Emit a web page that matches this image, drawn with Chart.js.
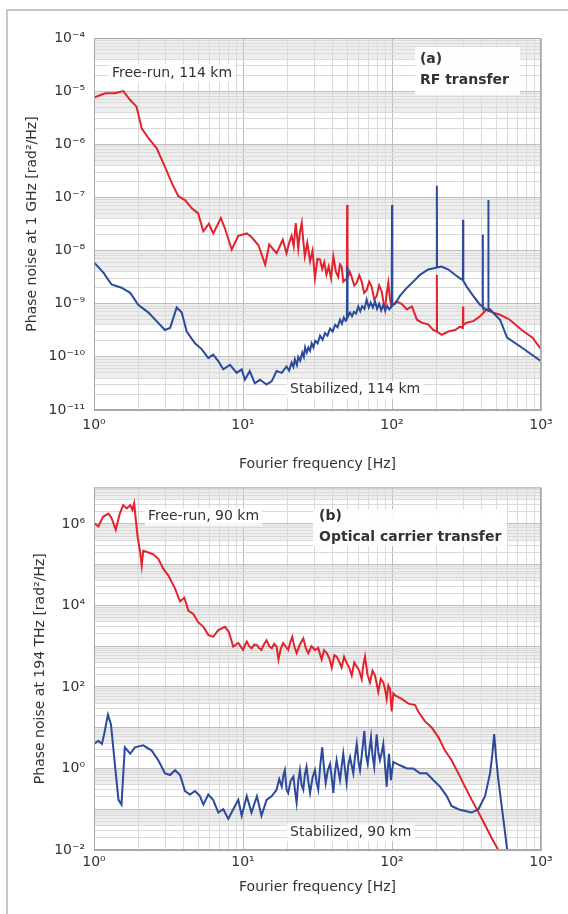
<!DOCTYPE html>
<html>
<head>
<meta charset="utf-8">
<script src="https://cdn.jsdelivr.net/npm/chart.js@4.4.1/dist/chart.umd.min.js"></script>
<style>
  html, body { margin: 0; padding: 0; background: #fff; overflow: hidden; }
  body { width: 568px; height: 914px; position: relative; }
  #frame { position: absolute; left: 6px; top: 9px; width: 640px; height: 980px; border: 2px solid #c8c8c8; }
  canvas { position: absolute; left: 0; }
  #rfChart { top: 0; }
  #optChart { top: 470px; }
</style>
</head>
<body>
<div id="frame"></div>
<canvas id="rfChart" width="568" height="476"></canvas>
<canvas id="optChart" width="568" height="444"></canvas>
<script>
// (a) RF transfer, 114 km
const rfFreeFreq = [1.0, 1.19, 1.38, 1.57, 1.75, 1.93, 2.09, 2.32, 2.63, 2.99, 3.32, 3.68, 4.08, 4.52, 5.0, 5.42, 5.9, 6.32, 7.1, 7.57,
  8.4, 9.3, 10.6, 11.4, 12.7, 14.1, 15.0, 16.8, 18.5, 19.6, 20.4, 21.2, 21.9, 22.6, 23.5, 24.1, 24.8, 25.4, 26, 27,
  28.2, 29.3, 30.4, 31.6, 32.9, 34, 35.1, 36.3, 37.6, 39, 40.4, 42, 43.6, 44.7, 45.9, 47.1, 48.4, 49.8, 50, 50.3,
  52, 53.6, 55.8, 58, 60.3, 62.6, 65, 67.6, 70.3, 73, 76, 78.9, 82, 85.3, 87.5, 89.8, 92, 94.5, 97, 99.5,
  107, 116, 126, 136, 147, 158, 175, 189, 199.5, 200, 200.5, 215, 239, 265, 286, 299, 300, 301, 317, 351,
  390, 432, 455, 479, 531, 617, 742, 878, 1000];
const rfFreeVal = [7.6e-6, 9.1e-6, 9.1e-6, 1.0e-5, 6.8e-6, 5.1e-6, 2.0e-6, 1.3e-6, 8.5e-7, 3.8e-7, 1.9e-7, 1.05e-7, 8.9e-8, 6.3e-8, 5.0e-8, 2.3e-8, 3.2e-8, 2.1e-8, 4.1e-8, 2.6e-8,
  1.05e-8, 1.9e-8, 2.1e-8, 1.8e-8, 1.26e-8, 5.4e-9, 1.3e-8, 8.9e-9, 1.6e-8, 8.9e-9, 1.4e-8, 1.9e-8, 1.2e-8, 3.3e-8, 1.1e-8, 2.2e-8, 3.3e-8, 1.5e-8, 7.8e-9, 1.4e-8,
  6.3e-9, 1.0e-8, 3.0e-9, 7.0e-9, 6.8e-9, 4.5e-9, 6.0e-9, 3.5e-9, 5.0e-9, 3.0e-9, 7.8e-9, 4.0e-9, 3.2e-9, 5.5e-9, 5.0e-9, 2.6e-9, 2.8e-9, 3.0e-9, 7.2e-8, 3.0e-9,
  4.0e-9, 3.2e-9, 2.2e-9, 2.5e-9, 3.4e-9, 2.6e-9, 1.6e-9, 1.8e-9, 2.6e-9, 2.1e-9, 1.2e-9, 1.4e-9, 2.2e-9, 1.7e-9, 1.1e-9, 7.8e-10, 1.5e-9, 2.5e-9, 1.2e-9, 8.9e-10,
  1.1e-9, 1.0e-9, 7.8e-10, 8.9e-10, 5.0e-10, 4.4e-10, 4.1e-10, 3.2e-10, 3.0e-10, 3.5e-9, 3.0e-10, 2.6e-10, 3.0e-10, 3.2e-10, 3.7e-10, 3.5e-10, 8.9e-10, 4.0e-10, 4.4e-10, 4.7e-10,
  5.8e-10, 7.8e-10, 7.2e-10, 6.8e-10, 6.2e-10, 5.0e-10, 3.2e-10, 2.3e-10, 1.4e-10];

const rfStabFreq = [1.0, 1.16, 1.31, 1.53, 1.75, 1.98, 2.32, 2.63, 2.99, 3.24, 3.59, 3.88, 4.19, 4.76, 5.28, 5.85, 6.3, 6.83, 7.38, 8.18,
  9.07, 9.8, 10.3, 11.1, 12.0, 13.0, 14.4, 15.6, 16.8, 18.2, 19.6, 20.4, 21.2, 21.8, 22.3, 23, 23.5, 24.2, 25, 25.6,
  26.1, 26.8, 27.5, 28.2, 28.9, 29.7, 30.5, 31.7, 32.9, 34.2, 35.5, 36.9, 38.4, 40, 41.5, 43.1, 44.8, 46.1, 47.5, 48.8,
  49.8, 50, 50.3, 51.3, 52.3, 53.9, 55.5, 57.4, 59.4, 61.2, 63, 65.3, 67.6, 69.8, 72, 74.4, 76.9, 79.4, 82, 84.7,
  87.4, 90.2, 93, 96, 99.5, 100, 100.5, 105, 113, 126, 139, 154, 175, 194, 199.5, 200, 200.5, 215, 239, 265,
  286, 299, 300, 301, 317, 351, 390, 404, 406, 408, 441, 443, 445, 455, 531, 592, 742, 1000];
const rfStabVal = [6.0e-9, 3.8e-9, 2.3e-9, 2.0e-9, 1.6e-9, 9.5e-10, 6.8e-10, 4.7e-10, 3.2e-10, 3.5e-10, 8.5e-10, 6.8e-10, 3.0e-10, 1.8e-10, 1.4e-10, 9.5e-11, 1.1e-10, 8.3e-11, 5.8e-11, 7.1e-11,
  5.0e-11, 5.8e-11, 3.7e-11, 5.4e-11, 3.2e-11, 3.7e-11, 3.0e-11, 3.5e-11, 5.4e-11, 5.0e-11, 6.6e-11, 5.5e-11, 7.8e-11, 6.5e-11, 9.0e-11, 7.0e-11, 1.0e-10, 8.5e-11, 1.2e-10, 1.0e-10,
  1.5e-10, 1.2e-10, 1.5e-10, 1.3e-10, 1.8e-10, 1.5e-10, 2.0e-10, 1.8e-10, 2.5e-10, 2.1e-10, 2.8e-10, 2.5e-10, 3.4e-10, 3.0e-10, 4.0e-10, 3.6e-10, 5.0e-10, 4.2e-10, 5.5e-10, 4.8e-10,
  5.2e-10, 5.0e-9, 5.5e-10, 6.2e-10, 6.8e-10, 5.8e-10, 7.0e-10, 6.5e-10, 8.9e-10, 7.2e-10, 9.0e-10, 8.0e-10, 1.2e-9, 8.5e-10, 1.05e-9, 8.5e-10, 1.1e-9, 8.0e-10, 1.0e-9, 7.5e-10,
  9.5e-10, 7.5e-10, 9.0e-10, 7.8e-10, 9.0e-10, 7.2e-8, 9.5e-10, 1.0e-9, 1.4e-9, 2.0e-9, 2.6e-9, 3.5e-9, 4.4e-9, 4.7e-9, 4.8e-9, 1.66e-7, 4.8e-9, 5.0e-9, 4.4e-9, 3.5e-9,
  3.0e-9, 2.8e-9, 3.8e-8, 2.7e-9, 2.1e-9, 1.4e-9, 9.5e-10, 9.0e-10, 2.0e-8, 8.5e-10, 7.5e-10, 8.9e-8, 7.4e-10, 7.8e-10, 5.0e-10, 2.3e-10, 1.5e-10, 8.3e-11];

// (b) Optical carrier transfer, 90 km
const optFreeFreq = [1.0, 1.07, 1.15, 1.25, 1.31, 1.40, 1.49, 1.57, 1.66, 1.75, 1.81, 1.86, 1.96, 2.04, 2.09, 2.14, 2.32, 2.5, 2.70, 2.92,
  3.15, 3.5, 3.78, 4.04, 4.3, 4.64, 5.0, 5.42, 5.85, 6.3, 6.83, 7.57, 8.05, 8.6, 9.3, 10, 10.3, 10.6, 11, 11.4,
  11.9, 12.4, 12.8, 13.3, 13.8, 14.4, 15, 15.6, 16.2, 16.8, 17.3, 17.9, 18.6, 19.3, 20.1, 20.7, 21.4, 22.1, 22.9, 24.1,
  25.4, 26.4, 27.4, 28.8, 30.4, 32, 33.7, 35, 36.5, 38, 39.4, 41, 42.5, 44.2, 45.9, 47.7, 49.6, 51.6, 53.7, 55.8,
  58, 60.3, 62.6, 64.2, 65.9, 68.5, 71.2, 74, 76.9, 78.9, 80.9, 84, 87.4, 89.7, 92.1, 94.5, 97, 99.5, 102, 105,
  116, 129, 143, 150, 166, 185, 205, 227, 251, 279, 309, 343, 380, 421, 467, 517, 560];
const optFreeVal = [1.05e6, 8.7e5, 1.5e6, 1.8e6, 1.4e6, 7.2e5, 1.8e6, 2.9e6, 2.4e6, 2.9e6, 2.2e6, 3.2e6, 5.0e5, 2.0e5, 9.5e4, 2.2e5, 2.0e5, 1.8e5, 1.4e5, 7.9e4,
  5.5e4, 2.6e4, 1.26e4, 1.55e4, 7.4e3, 6.2e3, 3.9e3, 3.0e3, 1.9e3, 1.7e3, 2.5e3, 3.0e3, 2.2e3, 980, 1.2e3, 810, 1.05e3, 1.3e3, 1.0e3, 890,
  1.1e3, 1.07e3, 900, 810, 1.1e3, 1.4e3, 1.0e3, 890, 1.15e3, 980, 470, 850, 1.2e3, 1.0e3, 810, 1.2e3, 1.7e3, 1.0e3, 680, 1.1e3,
  1.55e3, 900, 680, 1.0e3, 810, 900, 470, 800, 680, 500, 300, 600, 560, 420, 300, 550, 390, 300, 190, 400,
  320, 250, 155, 350, 560, 200, 130, 250, 190, 120, 76, 160, 130, 90, 51, 110, 89, 25, 70, 62,
  51, 39, 36, 25, 14.5, 10, 5.8, 2.75, 1.6, 0.76, 0.36, 0.17, 0.085, 0.041, 0.0195, 0.01, 0.005];

const optStabFreq = [1.0, 1.07, 1.13, 1.17, 1.24, 1.30, 1.38, 1.46, 1.53, 1.61, 1.75, 1.88, 2.14, 2.44, 2.7, 3.0, 3.24, 3.5, 3.78, 4.08,
  4.41, 4.76, 5.14, 5.42, 5.85, 6.3, 6.83, 7.38, 7.97, 8.6, 9.3, 9.8, 10.6, 11.4, 12.4, 13.3, 14.4, 15.6, 16.8, 17.5,
  18.2, 18.7, 19.1, 19.6, 20.1, 20.9, 21.8, 22.3, 22.9, 23.5, 24.1, 24.7, 25.4, 26, 26.7, 27.4, 28.2, 29.3, 30.4, 31.2,
  32, 33, 34, 35, 35.9, 37.1, 38.4, 39.4, 40.4, 41.4, 42.5, 43.6, 44.8, 45.9, 47.1, 48.3, 49.6, 50.9, 52.3, 53.6,
  55, 56.5, 58, 59.5, 61, 63, 65.2, 66.9, 68.7, 70.5, 72.3, 74.1, 76, 77.4, 78.9, 81, 83, 85.2, 87.4, 89.7,
  92.1, 93.8, 95.5, 97, 98.4, 102, 113, 126, 139, 154, 171, 189, 210, 233, 251, 279, 309, 343, 380, 421,
  455, 470, 485, 500, 516, 561, 593, 620];
const optStabVal = [4.0, 4.8, 4.0, 6.9, 21, 12, 1.3, 0.17, 0.13, 3.3, 2.3, 3.3, 3.7, 2.75, 1.6, 0.76, 0.69, 0.91, 0.69, 0.28,
  0.23, 0.28, 0.21, 0.13, 0.23, 0.17, 0.083, 0.1, 0.058, 0.1, 0.17, 0.069, 0.21, 0.083, 0.21, 0.069, 0.17, 0.21, 0.30, 0.55,
  0.36, 0.7, 0.91, 0.3, 0.25, 0.5, 0.63, 0.3, 0.145, 0.5, 0.91, 0.4, 0.30, 0.7, 1.1, 0.5, 0.25, 0.6, 0.91, 0.45,
  0.30, 1.2, 3.3, 1.0, 0.44, 0.9, 1.3, 0.6, 0.25, 0.8, 1.6, 0.9, 0.52, 1.1, 2.3, 1.0, 0.44, 1.2, 1.9, 1.2,
  0.76, 2.0, 4.0, 1.5, 0.91, 2.5, 8.3, 2.2, 1.3, 2.8, 5.8, 2.0, 1.1, 3.0, 6.9, 2.5, 1.6, 2.4, 4.0, 1.2,
  0.36, 1.1, 2.3, 1.0, 0.52, 1.45, 1.2, 1.0, 1.0, 0.76, 0.76, 0.52, 0.36, 0.21, 0.12, 0.10, 0.091, 0.083, 0.10, 0.21,
  0.76, 2.0, 7.0, 1.8, 0.56, 0.052, 0.01, 0.004];

// tick labels
const xDecades = [1, 10, 100, 1000];
const xLabels = ['10⁰', '10¹', '10²', '10³'];
const rfYDecades = [1e-11, 1e-10, 1e-9, 1e-8, 1e-7, 1e-6, 1e-5, 1e-4];
const rfYLabels = ['10⁻¹¹', '10⁻¹⁰', '10⁻⁹', '10⁻⁸', '10⁻⁷', '10⁻⁶', '10⁻⁵', '10⁻⁴'];
const optYDecades = [1e-2, 1, 1e2, 1e4, 1e6];
const optYLabels = ['10⁻²', '10⁰', '10²', '10⁴', '10⁶'];

const RED = '#e3232b';
const BLUE = '#2b4a9b';
const TEXT = '#333';
const FONT = 'DejaVu Sans';

function pairs(xs, ys) {
  return xs.map((x, i) => ({x: x, y: ys[i]}));
}

function logTicks(min, max) {
  const out = [];
  for (let e = Math.floor(Math.log10(min)); e <= Math.ceil(Math.log10(max)); e++) {
    for (let m = 1; m <= 9; m++) {
      const v = m * Math.pow(10, e);
      if (v >= min * 0.999999 && v <= max * 1.000001) out.push({value: v});
    }
  }
  return out;
}

function isDecade(v) {
  const l = Math.log10(v);
  return Math.abs(l - Math.round(l)) < 1e-6;
}

function labelFor(value, decades, labels) {
  const i = decades.findIndex(d => Math.abs(value / d - 1) < 1e-6);
  return i >= 0 ? labels[i] : '';
}

function gridColor(c) {
  if (!c.tick) return '#dadada';
  return isDecade(c.tick.value) ? '#bdbdbd' : '#dadada';
}

// grey bands in the upper part of each decade
const bandPlugin = {
  id: 'bands',
  beforeDraw(chart) {
    const {ctx, chartArea: a, scales: {y}} = chart;
    ctx.save();
    ctx.fillStyle = '#eeeeee';
    for (let e = Math.floor(Math.log10(y.min)); e <= Math.ceil(Math.log10(y.max)); e++) {
      const hi = Math.min(Math.pow(10, e), y.max);
      const lo = Math.max(0.4 * Math.pow(10, e), y.min);
      if (hi <= lo) continue;
      const y1 = y.getPixelForValue(hi);
      const y2 = y.getPixelForValue(lo);
      ctx.fillRect(a.left, y1, a.right - a.left, y2 - y1);
    }
    ctx.restore();
  }
};

// plot frame and text notes
const notePlugin = {
  id: 'notes',
  afterDatasetsDraw(chart, args, opts) {
    const {ctx, chartArea: a, scales: {x, y}} = chart;
    ctx.save();
    ctx.strokeStyle = '#a8a8a8';
    ctx.lineWidth = 1;
    ctx.strokeRect(a.left + 0.5, a.top + 0.5, a.right - a.left - 1, a.bottom - a.top - 1);
    if (opts.box) {
      const b = opts.box;
      const x1 = x.getPixelForValue(b.x1), x2 = x.getPixelForValue(b.x2);
      const y1 = y.getPixelForValue(b.y1), y2 = y.getPixelForValue(b.y2);
      ctx.fillStyle = 'rgba(255,255,255,0.9)';
      ctx.fillRect(x1, y1, x2 - x1, y2 - y1);
    }
    ctx.textBaseline = 'middle';
    ctx.textAlign = 'left';
    for (const n of opts.items) {
      ctx.font = n.font;
      const px = x.getPixelForValue(n.x);
      const py = y.getPixelForValue(n.y);
      const w = ctx.measureText(n.text).width;
      if (n.bg) {
        ctx.fillStyle = 'rgba(255,255,255,0.85)';
        ctx.fillRect(px - 3, py - 9, w + 6, 18);
      }
      ctx.fillStyle = TEXT;
      ctx.fillText(n.text, px, py);
    }
    ctx.restore();
  }
};

function makeChart(id, cfg) {
  const yTicks = logTicks(cfg.yMin, cfg.yMax);
  const xTicks = logTicks(1, 1000);
  return new Chart(document.getElementById(id), {
    type: 'line',
    data: {
      datasets: [
        {data: pairs(cfg.stabFreq, cfg.stabVal), borderColor: BLUE, borderWidth: 2},
        {data: pairs(cfg.freeFreq, cfg.freeVal), borderColor: RED, borderWidth: 2}
      ]
    },
    options: {
      responsive: false,
      animation: false,
      devicePixelRatio: 1,
      layout: {padding: {left: 0, right: 27, top: cfg.padTop, bottom: 0}},
      elements: {point: {radius: 0}, line: {tension: 0}},
      plugins: {
        legend: {display: false},
        tooltip: {enabled: false},
        notes: {items: cfg.notes, box: cfg.box}
      },
      scales: {
        x: {
          type: 'logarithmic',
          min: 1,
          max: 1000,
          afterBuildTicks: s => { s.ticks = xTicks.map(t => ({value: t.value})); },
          afterFit: s => { s.height = cfg.xAxisHeight; },
          grid: {color: gridColor, drawTicks: false},
          border: {color: '#a8a8a8'},
          ticks: {
            autoSkip: false,
            maxRotation: 0,
            padding: cfg.xTickPad,
            color: TEXT,
            font: {family: FONT, size: 14},
            callback: v => labelFor(v, xDecades, xLabels)
          },
          title: {
            display: true,
            text: 'Fourier frequency [Hz]',
            color: TEXT,
            font: {family: FONT, size: 14},
            padding: {top: 0, bottom: cfg.xTitlePad}
          }
        },
        y: {
          type: 'logarithmic',
          min: cfg.yMin,
          max: cfg.yMax,
          afterBuildTicks: s => { s.ticks = yTicks.map(t => ({value: t.value})); },
          afterFit: s => { s.width = 94; },
          grid: {color: gridColor, drawTicks: false},
          border: {color: '#a8a8a8'},
          ticks: {
            autoSkip: false,
            padding: 9,
            color: TEXT,
            font: {family: FONT, size: 14},
            callback: v => labelFor(v, cfg.yDecades, cfg.yLabels)
          },
          title: {
            display: true,
            text: cfg.yTitle,
            color: TEXT,
            font: {family: FONT, size: 14},
            padding: {top: cfg.yTitlePad, bottom: 0}
          }
        }
      }
    },
    plugins: [bandPlugin, notePlugin]
  });
}

makeChart('rfChart', {
  freeFreq: rfFreeFreq, freeVal: rfFreeVal,
  stabFreq: rfStabFreq, stabVal: rfStabVal,
  yMin: 1e-11, yMax: 1e-4,
  yDecades: rfYDecades, yLabels: rfYLabels,
  yTitle: 'Phase noise at 1 GHz [rad²/Hz]',
  padTop: 38, xAxisHeight: 66, xTickPad: 7, xTitlePad: 3, yTitlePad: 24,
  box: {x1: 143, x2: 723, y1: 6.8e-5, y2: 8.5e-6},
  notes: [
    {text: 'Free-run, 114 km', x: 1.32, y: 2.2e-5, font: '14px ' + FONT, bg: true},
    {text: '(a)', x: 154, y: 3.9e-5, font: 'bold 14px ' + FONT},
    {text: 'RF transfer', x: 154, y: 1.6e-5, font: 'bold 14px ' + FONT},
    {text: 'Stabilized, 114 km', x: 20.7, y: 2.4e-11, font: '14px ' + FONT, bg: true}
  ]
});

makeChart('optChart', {
  freeFreq: optFreeFreq, freeVal: optFreeVal,
  stabFreq: optStabFreq, stabVal: optStabVal,
  yMin: 1e-2, yMax: 7.9e6,
  yDecades: optYDecades, yLabels: optYLabels,
  yTitle: 'Phase noise at 194 THz [rad²/Hz]',
  padTop: 8, xAxisHeight: 64, xTickPad: 4, xTitlePad: 18, yTitlePad: 32,
  box: {x1: 29.5, x2: 592, y1: 2.3e6, y2: 2.9e5},
  notes: [
    {text: 'Free-run, 90 km', x: 2.3, y: 1.5e6, font: '14px ' + FONT, bg: true},
    {text: '(b)', x: 32.4, y: 1.5e6, font: 'bold 14px ' + FONT},
    {text: 'Optical carrier transfer', x: 32.4, y: 4.8e5, font: 'bold 14px ' + FONT},
    {text: 'Stabilized, 90 km', x: 20.7, y: 0.027, font: '14px ' + FONT, bg: true}
  ]
});
</script>
</body>
</html>
